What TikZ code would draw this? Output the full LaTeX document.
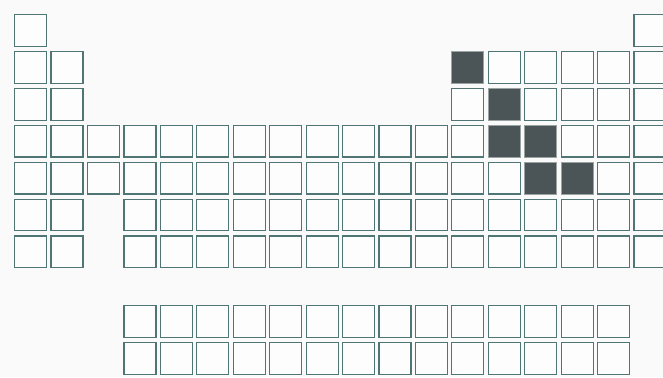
\documentclass[tikz,border=0pt]{standalone}
\definecolor{bg}{HTML}{FAFAFA}
\definecolor{edge}{HTML}{4F7674}
\definecolor{dark}{HTML}{4B5456}
\definecolor{darkedge}{HTML}{9AA3A2}
\tikzset{
  cell/.style={draw=edge, line width=1.2pt, fill=white!60!bg, minimum width=32pt, minimum height=31.7pt, inner sep=0pt, outer sep=0pt, anchor=north west},
  hot/.style={cell, fill=dark, draw=darkedge, line width=0.8pt}
}
\begin{document}
\begin{tikzpicture}[x=1pt,y=-1pt]
\useasboundingbox (0,0) rectangle (663,377);
\fill[bg] (0,0) rectangle (663,377);
\clip (0,0) rectangle (663,377);
\def\px{36.44}
\def\py{36.9}
% row 1
\foreach \c in {0,17} \node[cell] (r1c\c) at ({14.6+\c*\px},{14.6}) {};
% rows 2-3
\foreach \r in {1,2} {
  \foreach \c in {0,1,12,13,14,15,16,17} \node[cell] (r\r c\c) at ({14.6+\c*\px},{14.6+\r*\py}) {};
}
% rows 4-5
\foreach \r in {3,4} {
  \foreach \c in {0,...,17} \node[cell] (r\r c\c) at ({14.6+\c*\px},{14.6+\r*\py}) {};
}
% rows 6-7
\foreach \r in {5,6} {
  \foreach \c in {0,1,3,4,5,6,7,8,9,10,11,12,13,14,15,16,17} \node[cell] (r\r c\c) at ({14.6+\c*\px},{14.6+\r*\py}) {};
}
% lanthanides / actinides
\foreach \r/\y in {8/305.6,9/342.6} {
  \foreach \c in {3,...,16} \node[cell] (r\r c\c) at ({14.6+\c*\px},\y) {};
}
% metalloids
\node[hot] (B)  at ({14.6+12*\px},{14.6+1*\py}) {};
\node[hot] (Si) at ({14.6+13*\px},{14.6+2*\py}) {};
\node[hot] (Ge) at ({14.6+13*\px},{14.6+3*\py}) {};
\node[hot] (As) at ({14.6+14*\px},{14.6+3*\py}) {};
\node[hot] (Sb) at ({14.6+14*\px},{14.6+4*\py}) {};
\node[hot] (Te) at ({14.6+15*\px},{14.6+4*\py}) {};
\end{tikzpicture}
\end{document}
